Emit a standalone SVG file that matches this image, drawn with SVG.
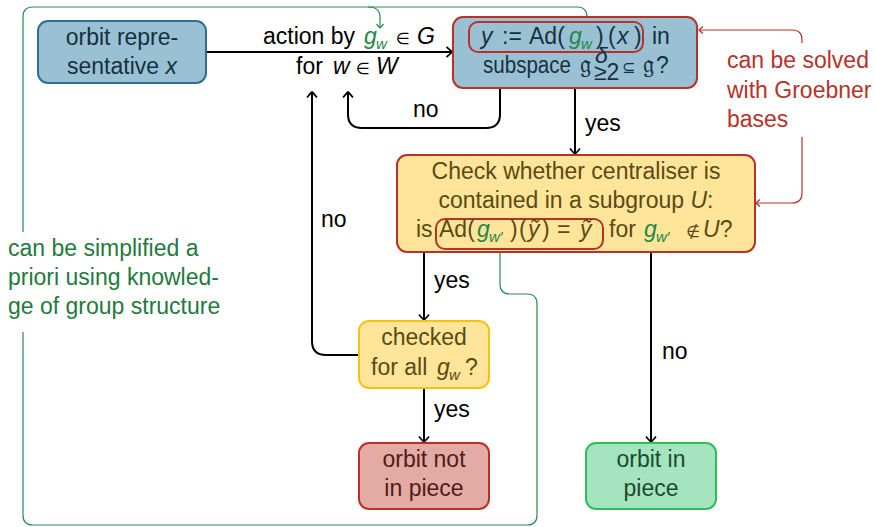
<svg xmlns="http://www.w3.org/2000/svg" width="875" height="527" viewBox="0 0 875 527">
  <defs>
    <style>
      text { font-family: "Liberation Sans", "DejaVu Sans", sans-serif; font-size: 23px; }
      .it { font-style: italic; }
      .sub { font-size: 15px; font-style: italic; }
      .rel { font-family: "DejaVu Sans", sans-serif; font-size: 16px; }
      .frak { font-family: "DejaVu Sans", sans-serif; font-size: 25px; }
      .gm { fill: #23864a; }
      .node rect { stroke-width: 2; }
      .blue rect.box { fill: #9ac1d3; }
      .blue text { fill: #16303f; }
      .yel rect.box { fill: #fee59a; }
      .yel text { fill: #5b4a12; }
      .inner { fill: none; stroke: #b83228; stroke-width: 2; }
      .edge { fill: none; stroke: #000; stroke-width: 2; }
      .lbl { fill: #000; }
      .gline { fill: none; stroke: #2a8a4e; stroke-width: 1.2; }
      .rline { fill: none; stroke: #b83228; stroke-width: 1.2; }
      .gtxt { fill: #1f7a3d; }
      .rtxt { fill: #b8322a; }
    </style>
    <marker id="tipK" viewBox="-7 -7 9 14" refX="0" refY="0" markerWidth="9" markerHeight="14" orient="auto" markerUnits="userSpaceOnUse">
      <path d="M -5.5 -5 Q -1.2 -1.5 0 0 Q -1.2 1.5 -5.5 5" fill="none" stroke="#000" stroke-width="1.7"/>
    </marker>
    <marker id="tipG" viewBox="-6 -5 7 10" refX="0" refY="0" markerWidth="7" markerHeight="10" orient="auto" markerUnits="userSpaceOnUse">
      <path d="M -4 -3.5 Q -1 -1 0 0 Q -1 1 -4 3.5" fill="none" stroke="#2a8a4e" stroke-width="1.2"/>
    </marker>
    <marker id="tipR" viewBox="-6 -5 7 10" refX="0" refY="0" markerWidth="7" markerHeight="10" orient="auto" markerUnits="userSpaceOnUse">
      <path d="M -4 -3.5 Q -1 -1 0 0 Q -1 1 -4 3.5" fill="none" stroke="#b83228" stroke-width="1.2"/>
    </marker>
  </defs>

  <rect width="875" height="527" fill="#fff"/>

  <!-- annotation brackets -->
  <g id="annotations">
    <path class="gline" d="M 23 232 V 17 Q 23 7 33 7 H 577 Q 587 7 587 17 V 28" marker-end="url(#tipG)"/>
    <path class="gline" d="M 368 7 Q 380 7 380 17 V 28" marker-end="url(#tipG)"/>
    <path class="gline" d="M 23 332 V 515 Q 23 525 33 525 H 527 Q 537 525 537 515 V 304 Q 537 294 527 294 H 510 Q 500 294 500 284 V 247" marker-end="url(#tipG)"/>
    <path class="rline" d="M 802 43 V 40 Q 802 30 792 30 H 699" marker-end="url(#tipR)"/>
    <path class="rline" d="M 802 137 V 193 Q 802 203 792 203 H 756" marker-end="url(#tipR)"/>
    <text class="gtxt" x="8" y="256">can be simplified a</text>
    <text class="gtxt" x="8" y="285">priori using knowled-</text>
    <text class="gtxt" x="8" y="314">ge of group structure</text>
    <text class="rtxt" x="727" y="68">can be solved</text>
    <text class="rtxt" x="727" y="98">with Groebner</text>
    <text class="rtxt" x="727" y="127">bases</text>
  </g>

  <!-- connectors -->
  <g id="connectors">
    <path class="edge" d="M 206 52 H 452" marker-end="url(#tipK)"/>
    <path class="edge" d="M 575 88 V 154" marker-end="url(#tipK)"/>
    <path class="edge" d="M 500 88 V 114 Q 500 128 486 128 H 362 Q 348 128 348 114 V 92" marker-end="url(#tipK)"/>
    <path class="edge" d="M 424 252 V 320" marker-end="url(#tipK)"/>
    <path class="edge" d="M 358 355 H 326 Q 312 355 312 341 V 92" marker-end="url(#tipK)"/>
    <path class="edge" d="M 424 388 V 442" marker-end="url(#tipK)"/>
    <path class="edge" d="M 651 252 V 442" marker-end="url(#tipK)"/>

    <text x="263" y="44" class="lbl">action by <tspan x="364" class="it gm">g</tspan><tspan x="376" dy="5" class="sub gm">w</tspan><tspan x="396" dy="-5" class="rel">∈</tspan><tspan x="417" class="it">G</tspan></text>
    <text x="296" y="74" class="lbl">for <tspan x="333" class="it">w</tspan><tspan x="356" class="rel">∈</tspan><tspan x="376" class="it">W</tspan></text>
    <text x="585" y="131" class="lbl">yes</text>
    <text x="413" y="117" class="lbl">no</text>
    <text x="321" y="227" class="lbl">no</text>
    <text x="434" y="288" class="lbl">yes</text>
    <text x="434" y="417" class="lbl">yes</text>
    <text x="662" y="359" class="lbl">no</text>
  </g>

  <!-- nodes -->
  <g id="orbit-rep" class="node blue">
    <rect class="box" x="38" y="21" width="168" height="62" rx="10" stroke="#2e6e93"/>
    <text x="122" y="45" text-anchor="middle">orbit repre-</text>
    <text x="122" y="74" text-anchor="middle">sentative <tspan class="it">x</tspan></text>
  </g>

  <g id="subspace-test" class="node blue">
    <rect class="box" x="453" y="17" width="244" height="71" rx="10" stroke="#b83228"/>
    <rect class="inner" x="469" y="22" width="174" height="30" rx="9"/>
    <text x="481" y="44"><tspan class="it">y</tspan><tspan x="502">:=</tspan><tspan x="529">Ad(</tspan><tspan x="569" class="it gm">g</tspan><tspan x="581" dy="5" class="sub gm">w</tspan><tspan x="596" dy="-5">)</tspan><tspan x="608">(</tspan><tspan x="617" class="it">x</tspan><tspan x="634">)</tspan><tspan x="652">in</tspan></text>
    <text x="483" y="73" textLength="88" lengthAdjust="spacingAndGlyphs">subspace</text>
    <text x="580" y="73" class="frak">𝔤</text>
    <text x="595" y="63" font-size="11" font-style="italic">δ</text>
    <text x="594" y="80" font-size="13">≥2</text>
    <text x="622" y="73" class="rel" font-size="18">⊆</text>
    <text x="643" y="73" class="frak">𝔤</text>
    <text x="656" y="73">?</text>
  </g>

  <g id="centraliser-check" class="node yel">
    <rect class="box" x="397" y="155" width="358" height="97" rx="10" stroke="#b83228"/>
    <rect class="inner" x="436" y="219" width="167" height="30" rx="9"/>
    <text x="576" y="179" text-anchor="middle">Check whether centraliser is</text>
    <text x="576" y="208" text-anchor="middle">contained in a subgroup <tspan class="it">U</tspan>:</text>
    <text x="416" y="237">is<tspan x="439">Ad(</tspan><tspan x="477" class="it gm">g</tspan><tspan x="489" dy="5" class="sub gm">w′</tspan><tspan x="510" dy="-5">)</tspan><tspan x="519">(</tspan><tspan x="528" class="it">ỹ</tspan><tspan x="542">)</tspan><tspan x="557">=</tspan><tspan x="580" class="it">ỹ</tspan><tspan x="609">for</tspan><tspan x="644" class="it gm">g</tspan><tspan x="656" dy="5" class="sub gm">w′</tspan><tspan x="686" dy="-5" class="rel" font-size="17">∉</tspan><tspan x="703" class="it">U</tspan>?</text>
  </g>

  <g id="all-checked" class="node yel">
    <rect class="box" x="359" y="321" width="130" height="67" rx="10" stroke="#f6c20f"/>
    <text x="424" y="345" text-anchor="middle">checked</text>
    <text x="371" y="375">for all <tspan x="437" class="it">g</tspan><tspan x="449" dy="5" class="sub">w</tspan><tspan x="465" dy="-5">?</tspan></text>
  </g>

  <g id="not-in-piece" class="node">
    <rect x="359" y="443" width="130" height="66" rx="10" fill="#e4aaa4" stroke="#b83228"/>
    <text x="424" y="467" text-anchor="middle" fill="#4f1d16">orbit not</text>
    <text x="424" y="496" text-anchor="middle" fill="#4f1d16">in piece</text>
  </g>

  <g id="in-piece" class="node">
    <rect x="586" y="443" width="130" height="66" rx="10" fill="#a4e4bf" stroke="#2dbd5b"/>
    <text x="651" y="467" text-anchor="middle" fill="#1b4b2c">orbit in</text>
    <text x="651" y="496" text-anchor="middle" fill="#1b4b2c">piece</text>
  </g>
</svg>
